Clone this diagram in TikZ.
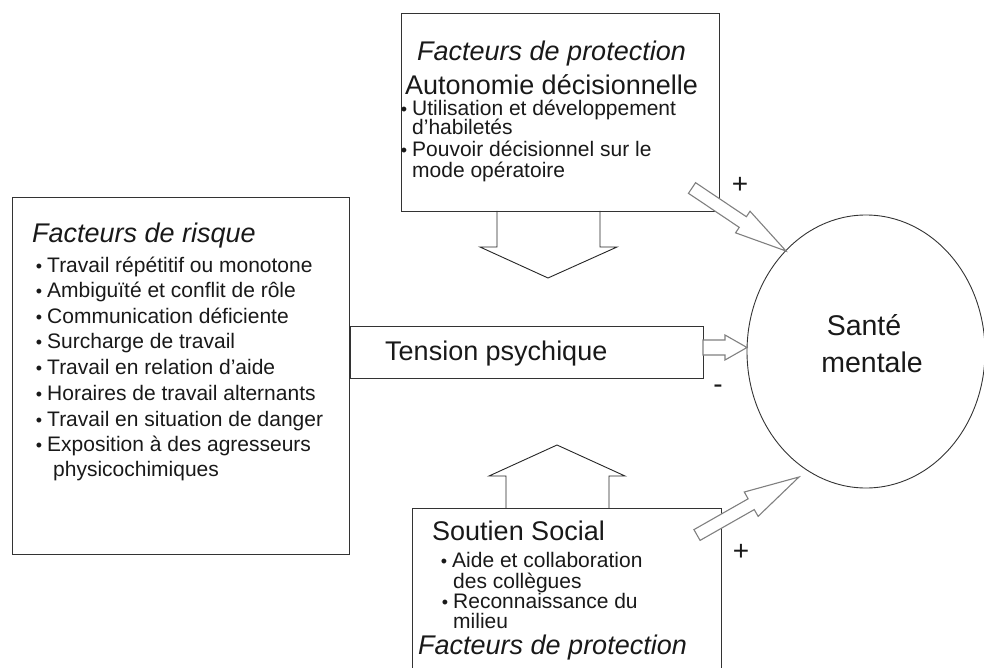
\documentclass[tikz,border=0pt]{standalone}
\usepackage{fontspec}
\setmainfont{Liberation Sans}
\usetikzlibrary{calc,shapes.geometric}
\newcommand\bul{\llap{{\fontsize{18}{18}\selectfont\textbullet}\hspace{5pt}}}
% block arrow: #1 tail, #2 tip, #3 shaft half width, #4 head length, #5 head half width, #6 style
\newcommand\barrow[6]{%
  \coordinate (ba-c) at ($(#2)!#4!(#1)$);
  \draw[#6] ($(#1)!#3!90:(#2)$) -- ($(ba-c)!#3!90:(#2)$) -- ($(ba-c)!#5!90:(#2)$) -- (#2)
    -- ($(ba-c)!#5!-90:(#2)$) -- ($(ba-c)!#3!-90:(#2)$) -- ($(#1)!#3!-90:(#2)$) -- cycle;}
\tikzset{
  box/.style={draw=black!80, line width=0.9pt, inner sep=0pt, anchor=north west},
  blk/.style={draw=black!85, line width=0.9pt, fill=white, line join=miter},
  garr/.style={draw=black!50, line width=1.1pt, fill=white, line join=miter},
  ttl/.style={anchor=base west, inner sep=0pt, font=\fontsize{27}{27}\selectfont, text=black!90},
  itl/.style={anchor=base west, inner sep=0pt, font=\fontsize{27}{27}\selectfont\itshape, text=black!90},
  itm/.style={anchor=base west, inner sep=0pt, font=\fontsize{21}{21}\selectfont, text=black!90},
  big/.style={anchor=base, inner sep=0pt, font=\fontsize{28.5}{28.5}\selectfont, text=black!90},
  sgn/.style={inner sep=0pt, font=\fontsize{28}{28}\selectfont, text=black!90},
}
\begin{document}
\begin{tikzpicture}[x=1pt,y=-1pt]
\useasboundingbox (0,0) rectangle (984,668);

% block arrows behind boxes
\draw[blk] (497,211) -- (497,247) -- (480,247) -- (548,278) -- (617,247) -- (600,247) -- (600,211);
\draw[blk] (506,508) -- (506,476) -- (489,476) -- (557,445) -- (625,476) -- (609,476) -- (609,508);

% boxes
\node[box, minimum width=318pt, minimum height=198pt] (top) at (401,13) {};
\node[box, minimum width=337pt, minimum height=357pt] (risk) at (12,197) {};
\node[box, minimum width=353pt, minimum height=52pt] (tens) at (350,326) {};
\node[box, minimum width=309pt, minimum height=175pt] (soc) at (412,508) {};

% circle
\node[ellipse, draw=black!80, line width=0.9pt, minimum width=238pt, minimum height=273pt, inner sep=0pt] (sm) at (866,351.5) {};
\node[big] (st) at (864,335) {Santé};
\node[big] (me) at (872,372) {mentale};

% small arrow tension -> santé
\coordinate (sa1) at (703,347.5);
\coordinate (sa2) at (747,347.5);
\barrow{sa1}{sa2}{7.5pt}{22pt}{12.5pt}{garr}

% diagonal arrows
\coordinate (ta) at (692,188);
\coordinate (tb) at (786,251);
\barrow{ta}{tb}{6.4pt}{52pt}{13pt}{garr}
\coordinate (bt) at (697,535);
\coordinate (bh) at (799,477);
\barrow{bt}{bh}{6.2pt}{55pt}{14pt}{garr}

% top box text
\node[itl] (t1) at (417,60.5) {Facteurs de protection};
\node[ttl] (t2) at (405,94.5) {Autonomie décisionnelle};
\node[itm] (t3) at (412,116) {\bul Utilisation et développement};
\node[itm] (t4) at (412,135) {d’habiletés};
\node[itm] (t5) at (412,157) {\bul Pouvoir décisionnel sur le};
\node[itm] (t6) at (412,177.5) {mode opératoire};

% risk box text
\node[itl] (r0) at (32,243) {Facteurs de risque};
\node[itm] (r1) at (47,272) {\bul Travail répétitif ou monotone};
\node[itm] (r2) at (47,297) {\bul Ambiguïté et conflit de rôle};
\node[itm] (r3) at (47,323) {\bul Communication déficiente};
\node[itm] (r4) at (47,348.5) {\bul Surcharge de travail};
\node[itm] (r5) at (47,374.5) {\bul Travail en relation d’aide};
\node[itm] (r6) at (47,400) {\bul Horaires de travail alternants};
\node[itm] (r7) at (47,426) {\bul Travail en situation de danger};
\node[itm] (r8) at (47,451) {\bul Exposition à des agresseurs};
\node[itm] (r9) at (53,476) {physicochimiques};

% tension
\node[ttl] (tt) at (385,360) {Tension psychique};

% social box text
\node[ttl] (s0) at (432,540) {Soutien Social};
\node[itm] (s1) at (452,567) {\bul Aide et collaboration};
\node[itm] (s2) at (453,588) {des collègues};
\node[itm] (s3) at (453,608) {\bul Reconnaissance du};
\node[itm] (s4) at (453,628) {milieu};
\node[itl] (s5) at (418,654) {Facteurs de protection};

% signs
\node[sgn] (p1) at (740,185) {+};
\node[sgn] (p2) at (741,552) {+};
\node[sgn] (m1) at (718,389) {-};
\end{tikzpicture}
\end{document}
